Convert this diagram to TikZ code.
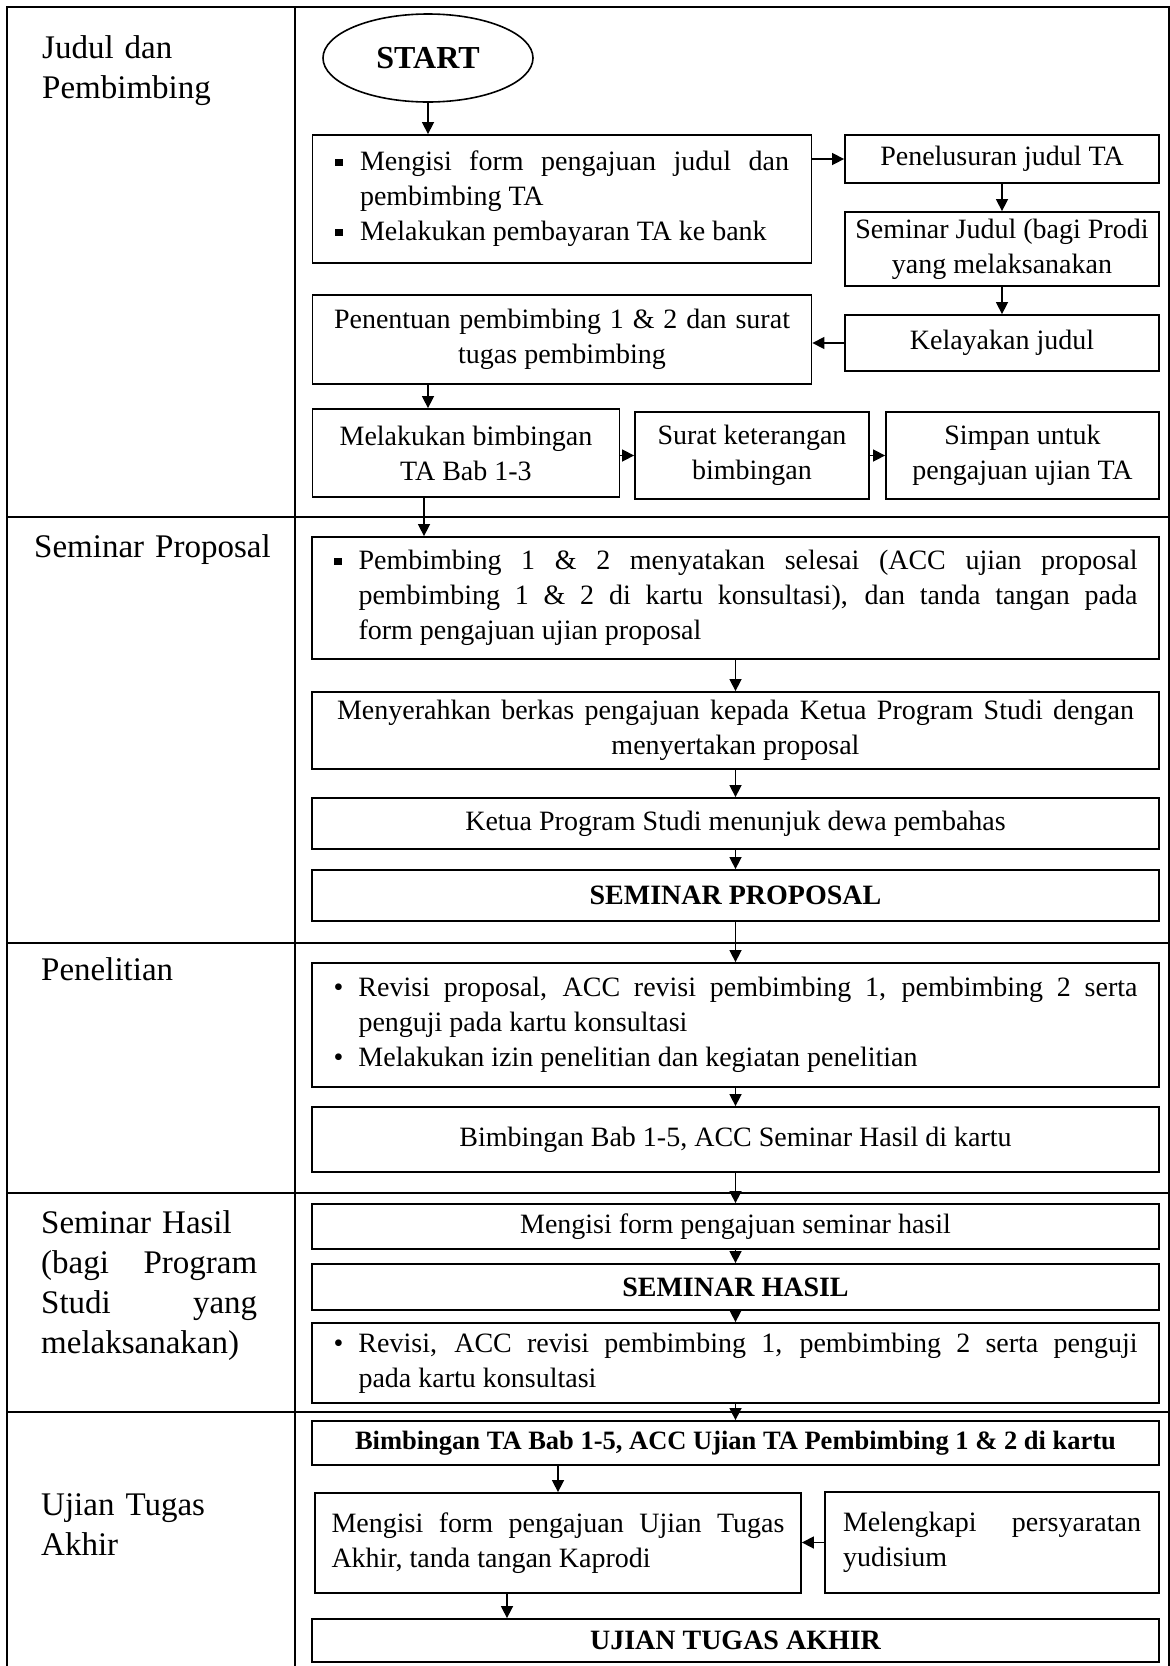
\documentclass[tikz,border=0pt]{standalone}
\usepackage{fontspec}
\setmainfont{Liberation Serif}
\usepackage{tikz}
\usetikzlibrary{shapes.geometric,arrows.meta}
\setlength{\parindent}{0pt}
\newcommand{\boxfont}{\fontsize{28}{35}\selectfont}
\newcommand{\lanefont}{\fontsize{33}{40}\selectfont}
\newcommand{\sqbul}{\makebox[25pt][l]{\rule[5pt]{8pt}{7pt}}}
\newcommand{\rndbul}{\makebox[25pt][l]{\textbullet}}
\tikzset{
    flow-box/.style = {draw, line width=1.8pt, rectangle, inner sep=0pt, align=center, font=\boxfont},
    start-oval/.style = {draw, ellipse, line width=1.6pt, inner sep=0pt, font=\fontsize{32}{38}\selectfont\bfseries},
    lane-label/.style = {anchor=base west, inner sep=0pt, text width=250pt, font=\lanefont},
    lane-line/.style = {line width=2pt},
    flow-arrow/.style = {line width=1.5pt, -{Triangle[length=12pt,width=12pt]}},
}

\begin{document}
\begin{tikzpicture}[x=1pt, y=-1pt]
\useasboundingbox (0,0) rectangle (1170,1666);

\draw[lane-line] (7,1666) -- (7,7) -- (1169,7) -- (1169,1666);
\draw[lane-line] (295,7) -- (295,1666);
\foreach \y in {517,943,1193,1412}
    \draw[lane-line] (7,\y) -- (1169,\y);

\node[lane-label] (lane-judul) at (42,58) {Judul dan\\Pembimbing};
\node[lane-label] (lane-sempro) at (34,557) {Seminar Proposal};
\node[lane-label] (lane-teliti) at (41,980) {Penelitian};
\node[lane-label] (lane-semhas) at (41,1233) {Seminar Hasil\\
    \makebox[216pt][l]{(bagi\hfill Program}\\
    \makebox[216pt][l]{Studi\hfill yang}\\
    melaksanakan)};
\node[lane-label] (lane-ujian) at (41,1515) {Ujian Tugas\\Akhir};

\node[start-oval, minimum width=210pt, minimum height=88pt] (start) at (428,58) {START};
\node[flow-box, minimum width=499pt, minimum height=128pt] (judul-form) at (562,199) {\begin{minipage}{454pt}
    \sqbul\makebox[429pt][s]{Mengisi form pengajuan judul dan}\\
    \hspace*{25pt}pembimbing TA\\
    \sqbul Melakukan pembayaran TA ke bank
\end{minipage}};
\node[flow-box, minimum width=314pt, minimum height=48pt] (telusur) at (1002,159) {Penelusuran judul TA};
\node[flow-box, minimum width=314pt, minimum height=74pt] (seminar-judul) at (1002,249) {Seminar Judul (bagi Prodi\\yang melaksanakan};
\node[flow-box, minimum width=314pt, minimum height=56pt] (kelayakan) at (1002,343) {Kelayakan judul};
\node[flow-box, minimum width=499pt, minimum height=89pt] (penentuan) at (562,339.5) {\makebox[456pt][s]{Penentuan pembimbing 1 \& 2 dan surat}\\tugas pembimbing};
\node[flow-box, minimum width=307pt, minimum height=88pt] (bimbingan-13) at (466,453) {Melakukan bimbingan\\TA Bab 1-3};
\node[flow-box, minimum width=234pt, minimum height=87pt] (surat-ket) at (752,455.5) {Surat keterangan\\bimbingan};
\node[flow-box, minimum width=273pt, minimum height=87pt] (simpan) at (1022.5,455.5) {Simpan untuk\\pengajuan ujian TA};

\node[flow-box, minimum width=847pt, minimum height=122pt] (acc-proposal) at (735.5,598) {\begin{minipage}{804pt}
    \sqbul\makebox[779pt][s]{Pembimbing 1 \& 2 menyatakan selesai (ACC ujian proposal}\\
    \hspace*{25pt}\makebox[779pt][s]{pembimbing 1 \& 2 di kartu konsultasi), dan tanda tangan pada}\\
    \hspace*{25pt}form pengajuan ujian proposal
\end{minipage}};
\node[flow-box, minimum width=847pt, minimum height=77pt] (berkas) at (735.5,730.5) {\makebox[797pt][s]{Menyerahkan berkas pengajuan kepada Ketua Program Studi dengan}\\menyertakan proposal};
\node[flow-box, minimum width=847pt, minimum height=51pt] (tunjuk) at (735.5,823.5) {Ketua Program Studi menunjuk dewa pembahas};
\node[flow-box, minimum width=847pt, minimum height=51pt, font=\boxfont\bfseries] (sempro) at (735.5,895.5) {SEMINAR PROPOSAL};

\node[flow-box, minimum width=847pt, minimum height=124pt] (revisi-prop) at (735.5,1025) {\begin{minipage}{804pt}
    \rndbul\makebox[779pt][s]{Revisi proposal, ACC revisi pembimbing 1, pembimbing 2 serta}\\
    \hspace*{25pt}penguji pada kartu konsultasi\\
    \rndbul Melakukan izin penelitian dan kegiatan penelitian
\end{minipage}};
\node[flow-box, minimum width=847pt, minimum height=65pt] (bimbingan-15) at (735.5,1139.5) {Bimbingan Bab 1-5, ACC Seminar Hasil di kartu};

\node[flow-box, minimum width=847pt, minimum height=45pt] (form-semhas) at (735.5,1226.5) {Mengisi form pengajuan seminar hasil};
\node[flow-box, minimum width=847pt, minimum height=46pt, font=\boxfont\bfseries] (semhas) at (735.5,1287) {SEMINAR HASIL};
\node[flow-box, minimum width=847pt, minimum height=80pt] (revisi-semhas) at (735.5,1363) {\begin{minipage}{804pt}
    \rndbul\makebox[779pt][s]{Revisi, ACC revisi pembimbing 1, pembimbing 2 serta penguji}\\
    \hspace*{25pt}pada kartu konsultasi
\end{minipage}};

\node[flow-box, minimum width=847pt, minimum height=44pt, font=\fontsize{26.5}{32}\selectfont\bfseries] (acc-ujian) at (735.5,1443) {Bimbingan TA Bab 1-5, ACC Ujian TA Pembimbing 1 \& 2 di kartu};
\node[flow-box, minimum width=486pt, minimum height=100pt] (form-ujian) at (558,1543) {\begin{minipage}{453pt}
    \makebox[453pt][s]{Mengisi form pengajuan Ujian Tugas}\\
    Akhir, tanda tangan Kaprodi
\end{minipage}};
\node[flow-box, minimum width=334pt, minimum height=101pt] (yudisium) at (992,1542.5) {\begin{minipage}{298pt}
    \makebox[298pt][s]{Melengkapi persyaratan}\\
    yudisium
\end{minipage}};
\node[flow-box, minimum width=847pt, minimum height=43pt, font=\boxfont\bfseries] (ujian-ta) at (735.5,1640.5) {UJIAN TUGAS AKHIR};

\draw[flow-arrow] (start.south) -- (start.south |- judul-form.north);
\draw[flow-arrow] (judul-form.east |- telusur) -- (telusur.west);
\draw[flow-arrow] (telusur.south) -- (seminar-judul.north);
\draw[flow-arrow] (seminar-judul.south) -- (kelayakan.north);
\draw[flow-arrow] (kelayakan.west) -- (kelayakan.west -| penentuan.east);
\draw[flow-arrow] (penentuan.south -| start) -- (bimbingan-13.north -| start);
\draw[flow-arrow] (bimbingan-13.east |- surat-ket) -- (surat-ket.west);
\draw[flow-arrow] (surat-ket.east) -- (simpan.west);
\draw[flow-arrow] ([xshift=-4pt]bimbingan-13.south -| start) -- ([xshift=-4pt]acc-proposal.north -| start);
\foreach \a/\b in {acc-proposal/berkas, berkas/tunjuk, tunjuk/sempro, sempro/revisi-prop, revisi-prop/bimbingan-15, bimbingan-15/form-semhas, form-semhas/semhas, semhas/revisi-semhas, revisi-semhas/acc-ujian}
    \draw[flow-arrow] (\a.south) -- (\b.north);
\draw[flow-arrow] (acc-ujian.south -| form-ujian) -- (form-ujian.north);
\draw[flow-arrow] (yudisium.west) -- (yudisium.west -| form-ujian.east);
\draw[flow-arrow] ([xshift=-51pt]form-ujian.south) -- ([xshift=-51pt]form-ujian.south |- ujian-ta.north);
\end{tikzpicture}
\end{document}
